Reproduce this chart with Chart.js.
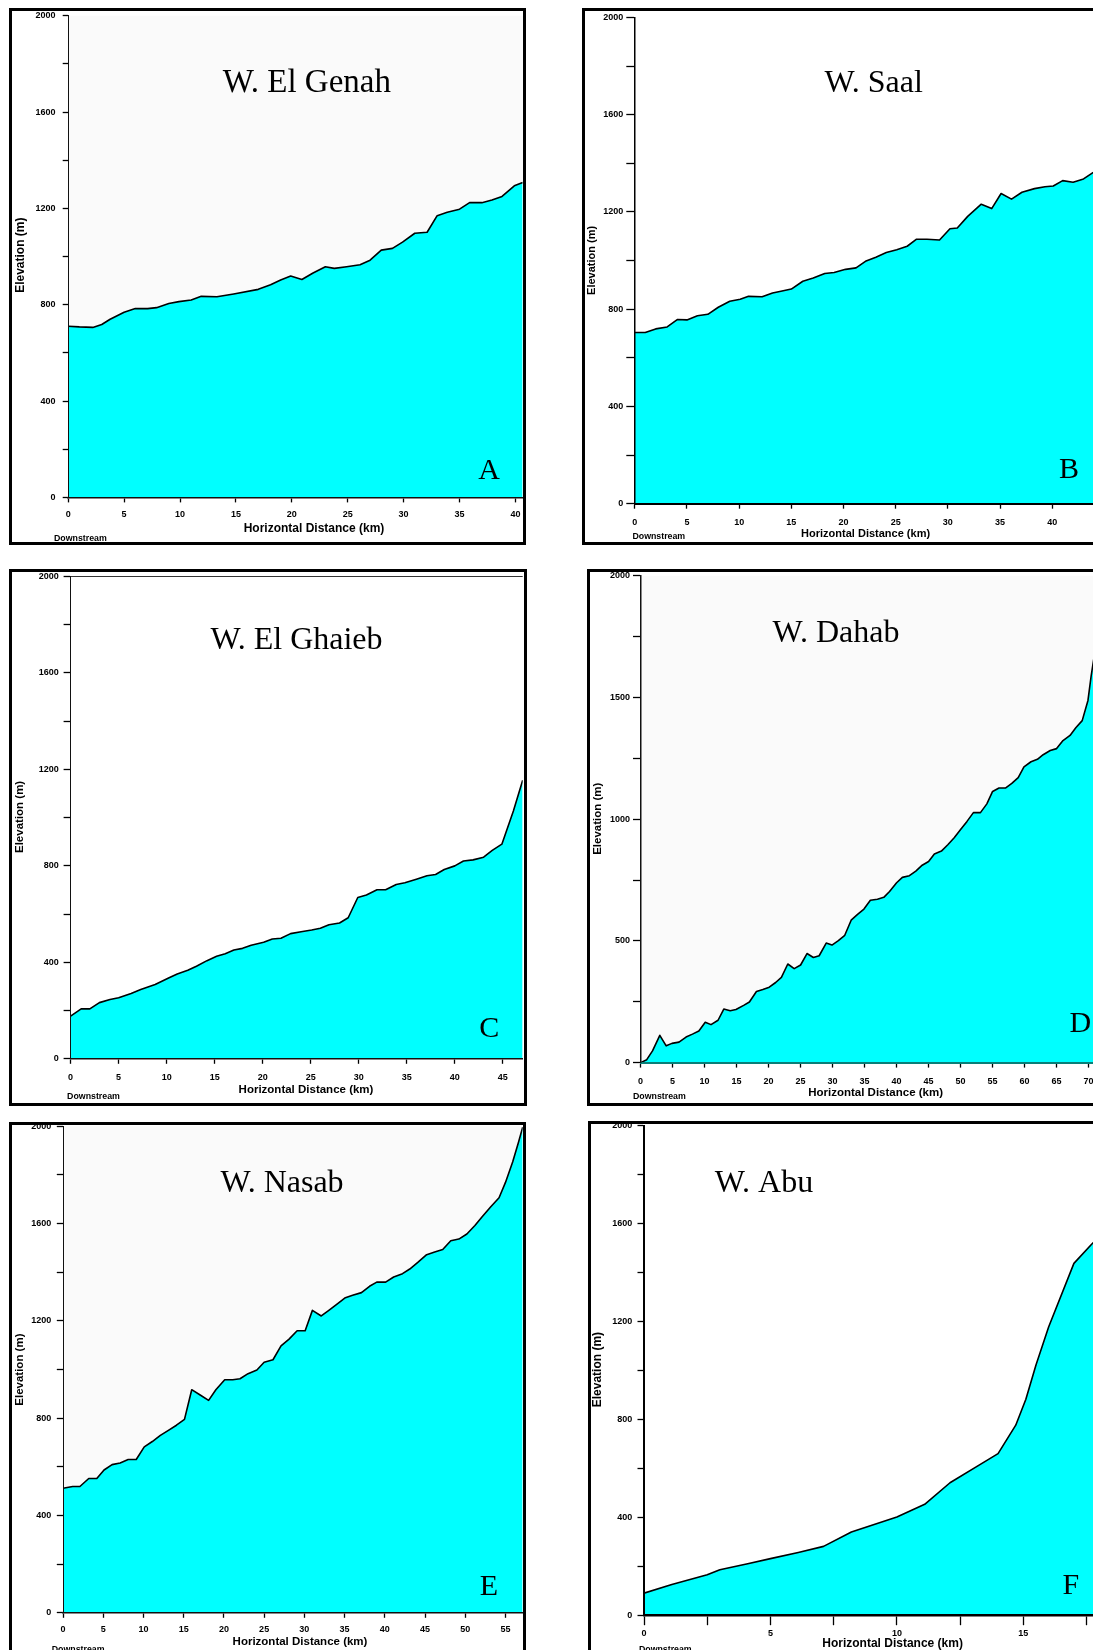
<!DOCTYPE html>
<html>
<head>
<meta charset="utf-8">
<script src="https://cdn.jsdelivr.net/npm/chart.js@4.4.1/dist/chart.umd.min.js"></script>
<style>
  html, body { margin: 0; padding: 0; background: #fff; }
  body { width: 1093px; height: 1650px; overflow: hidden; position: relative; }
  .frame { position: absolute; border: 3px solid #000; box-sizing: border-box; background: #fff; }
  .frame canvas { position: absolute; left: 0; top: 0; }
</style>
</head>
<body>
<script>
// Longitudinal profiles of six wadis: horizontal distance (km) vs elevation (m)
const panelNames = ['W. El Genah', 'W. Saal', 'W. El Ghaieb', 'W. Dahab', 'W. Nasab', 'W. Abu'];
const panelLetters = ['A', 'B', 'C', 'D', 'E', 'F'];
const xAxisTitle = 'Horizontal Distance (km)';
const yAxisTitle = 'Elevation (m)';
const downstreamNote = 'Downstream';

const genahKm   = [0, 1, 2.2, 3, 3.75, 5, 6, 7.1, 7.9, 9, 9.9, 11, 11.9, 13.3, 14.8, 17, 18.1, 19, 19.9, 20.9, 21.9, 23, 23.8, 24.9, 26.1, 27, 28, 29, 29.9, 31, 32.1, 33, 33.9, 35, 35.9, 37, 37.9, 38.8, 39.9, 40.65];
const genahElev = [711, 708, 706, 718, 740, 769, 784, 784, 788, 805, 813, 820, 835, 833, 845, 864, 883, 903, 919, 905, 932, 958, 951, 958, 966, 985, 1027, 1034, 1060, 1097, 1101, 1170, 1184, 1197, 1224, 1224, 1235, 1250, 1294, 1308];

const saalKm   = [0, 1, 2, 3.1, 4.1, 5, 6, 7, 8, 9.1, 10.1, 10.9, 12.2, 13.2, 14, 15, 16.1, 17.1, 18.2, 19.1, 20.2, 21.2, 22.1, 23.1, 24.1, 25.1, 26.1, 27, 28, 29.2, 30.2, 30.9, 31.9, 33.2, 34.2, 35.1, 36.1, 37.1, 38.3, 39.3, 40.1, 41, 42, 43, 43.9, 45];
const saalElev = [704, 704, 719, 727, 758, 756, 773, 779, 808, 833, 841, 853, 851, 867, 874, 883, 915, 928, 947, 951, 964, 970, 997, 1014, 1033, 1045, 1059, 1088, 1088, 1085, 1131, 1134, 1182, 1232, 1214, 1276, 1253, 1281, 1296, 1304, 1307, 1329, 1322, 1336, 1362, 1385];

const ghaiebKm   = [0, 1.1, 2, 3, 4.1, 5, 6.3, 7.3, 8.8, 10.2, 11.1, 12.2, 13.1, 14.2, 15.2, 16.1, 17, 17.9, 18.8, 20.1, 21, 21.9, 22.9, 24, 25.1, 26, 26.9, 28, 28.9, 29.9, 30.8, 31.9, 32.8, 33.9, 34.8, 36, 37.1, 38, 38.9, 40, 40.9, 41.9, 43, 43.9, 44.9, 46.1, 47.07];
const ghaiebElev = [177, 207, 207, 233, 246, 253, 271, 287, 308, 335, 352, 367, 384, 407, 425, 436, 451, 458, 471, 483, 497, 500, 519, 527, 534, 541, 556, 563, 585, 669, 679, 701, 701, 723, 730, 745, 759, 764, 785, 800, 820, 825, 836, 864, 890, 1028, 1155];

const dahabKm   = [0, 0.96, 1.86, 3, 4, 4.9, 6, 7.1, 8.1, 9.1, 10.1, 11, 12.1, 13, 14, 14.9, 16.1, 17, 18.1, 19.1, 20.1, 21.1, 22, 23, 24, 25, 26, 27, 27.9, 29, 29.9, 30.9, 31.9, 32.9, 33.9, 34.9, 35.9, 37, 38, 38.9, 40, 40.9, 42, 43, 44, 45, 45.9, 47, 48, 49, 50, 51, 52, 53.1, 54.1, 55, 56, 57, 58, 59, 59.9, 61, 62, 62.9, 64, 65, 66, 67.1, 68, 69, 69.9, 70.4, 70.7, 71];
const dahabElev = [0, 12, 48, 112, 69, 79, 84, 105, 117, 130, 166, 156, 174, 220, 213, 218, 235, 249, 292, 300, 310, 329, 350, 405, 386, 401, 448, 432, 439, 491, 483, 501, 523, 585, 609, 631, 667, 671, 679, 703, 739, 761, 768, 787, 811, 826, 857, 869, 895, 924, 958, 991, 1027, 1027, 1063, 1114, 1128, 1128, 1147, 1171, 1215, 1236, 1246, 1265, 1282, 1290, 1323, 1344, 1376, 1405, 1488, 1589, 1640, 1690];

const nasabKm   = [0, 1.2, 2.1, 3.2, 4.2, 5.1, 6.1, 7.1, 8.1, 9.1, 10.1, 11.1, 12.1, 13.1, 14.1, 15.1, 16, 17.1, 18.1, 19, 20.1, 21.1, 22, 23, 24.1, 25, 26.1, 27.1, 28.1, 29.1, 30.1, 31, 32.1, 33, 34.1, 35.1, 36, 37.1, 38.1, 39, 40.1, 41.1, 42.2, 43.1, 44.1, 45.2, 46.2, 47.2, 48.2, 49.2, 50.2, 51.2, 52.1, 53.2, 54.2, 55, 55.9, 56.6, 57.14];
const nasabElev = [512, 519, 519, 552, 552, 587, 609, 616, 630, 630, 682, 704, 729, 750, 771, 795, 917, 894, 873, 917, 958, 958, 962, 983, 998, 1030, 1040, 1097, 1125, 1159, 1159, 1243, 1220, 1242, 1270, 1295, 1305, 1316, 1342, 1359, 1359, 1380, 1394, 1413, 1440, 1472, 1483, 1493, 1529, 1536, 1557, 1592, 1628, 1670, 1706, 1769, 1854, 1932, 1996];

const abuKm   = [0, 1.1, 2.5, 3, 4.1, 5, 6.1, 7.1, 8.2, 10, 11.1, 12.1, 13.2, 14, 14.7, 15.1, 15.5, 16, 17, 17.7, 18];
const abuElev = [90, 125, 165, 186, 210, 231, 256, 281, 340, 401, 453, 541, 610, 660, 776, 882, 1022, 1177, 1437, 1515, 1545];

const SANS = '"Liberation Sans", Arial, sans-serif';
const SERIF = '"Liberation Serif", "Times New Roman", serif';
const BORDER = 3;

// Panel layout (page pixels): outer frame box and plot-area box for each chart
const panels = [
  { name: panelNames[0], letter: panelLetters[0], km: genahKm, elev: genahElev,
    frame: { x: 9, y: 8, w: 517, h: 537 }, plot: { l: 68.2, t: 15.8, r: 522.7, b: 497.4 },
    xMax: 40.65, xStep: 5, xLabelEvery: 5, yStep: 200, yLabelEvery: 400,
    yTick: { len: 5.5, pad: 7.2 }, xTick: { len: 5, pad: 7.2 },
    bg: '#fafafa', xAxisColor: '#111', yAxisColor: '#111', xBorderW: 1.5, yBorderW: 1, topLine: false,
    nameAt: [306.8, 91.9], nameSize: 33, letterAt: [489, 478.8],
    yTitleAt: [20.7, 255.2], xTitleAt: [314, 529], titleSize: 12, downAt: [54, 539] },
  { name: panelNames[1], letter: panelLetters[1], km: saalKm, elev: saalElev,
    frame: { x: 582, y: 8, w: 540, h: 537 }, plot: { l: 634.8, t: 17.5, r: 1104.4, b: 503.7 },
    xMax: 45, xStep: 5, xLabelEvery: 5, yStep: 200, yLabelEvery: 400,
    yTick: { len: 8.5, pad: 3 }, xTick: { len: 5, pad: 8.5 },
    bg: '#ffffff', xAxisColor: '#000', yAxisColor: '#000', xBorderW: 2, yBorderW: 1.5, topLine: false,
    nameAt: [873.7, 91.9], nameSize: 32, letterAt: [1069, 477.7],
    yTitleAt: [592.3, 260.4], xTitleAt: [865.6, 534], titleSize: 11, downAt: [632.4, 537] },
  { name: panelNames[2], letter: panelLetters[2], km: ghaiebKm, elev: ghaiebElev,
    frame: { x: 9, y: 569, w: 518, h: 537 }, plot: { l: 70.6, t: 576.5, r: 522.7, b: 1058.8 },
    xMax: 47.07, xStep: 5, xLabelEvery: 5, yStep: 200, yLabelEvery: 400,
    yTick: { len: 7, pad: 4.8 }, xTick: { len: 5, pad: 8.2 },
    bg: '#ffffff', xAxisColor: '#111', yAxisColor: '#111', xBorderW: 1.5, yBorderW: 1, topLine: true,
    nameAt: [296.5, 649.4], nameSize: 32, letterAt: [489.3, 1037],
    yTitleAt: [20.1, 816.9], xTitleAt: [306, 1089.6], titleSize: 11.5, downAt: [67.1, 1096.6] },
  { name: panelNames[3], letter: panelLetters[3], km: dahabKm, elev: dahabElev,
    frame: { x: 587, y: 569, w: 540, h: 537 }, plot: { l: 640.6, t: 575.8, r: 1095, b: 1062.6 },
    xMax: 71, xStep: 5, xLabelEvery: 5, yStep: 250, yLabelEvery: 500,
    yTick: { len: 7.6, pad: 3 }, xTick: { len: 5, pad: 8.6 },
    bg: '#fafafa', xAxisColor: '#0a7f78', yAxisColor: '#111', xBorderW: 2, yBorderW: 1.5, topLine: false,
    nameAt: [836, 642.4], nameSize: 32, letterAt: [1080.4, 1031.8],
    yTitleAt: [597.4, 818.7], xTitleAt: [875.6, 1093], titleSize: 11.5, downAt: [633, 1096.6] },
  { name: panelNames[4], letter: panelLetters[4], km: nasabKm, elev: nasabElev,
    frame: { x: 9, y: 1122, w: 517, h: 545 }, plot: { l: 63, t: 1126.2, r: 522.7, b: 1612.8 },
    xMax: 57.14, xStep: 5, xLabelEvery: 5, yStep: 200, yLabelEvery: 400,
    yTick: { len: 6.2, pad: 5.5 }, xTick: { len: 5, pad: 6.8 },
    bg: '#fafafa', xAxisColor: '#111', yAxisColor: '#111', xBorderW: 1.5, yBorderW: 1, topLine: false,
    nameAt: [282, 1192], nameSize: 32, letterAt: [488.8, 1594.5],
    yTitleAt: [19.6, 1369.6], xTitleAt: [300, 1642], titleSize: 11.5, downAt: [51.7, 1650] },
  { name: panelNames[5], letter: panelLetters[5], km: abuKm, elev: abuElev,
    frame: { x: 588, y: 1121, w: 540, h: 545 }, plot: { l: 644, t: 1125.5, r: 1099.2, b: 1615.2 },
    xMax: 18, xStep: 2.5, xLabelEvery: 5, yStep: 200, yLabelEvery: 400,
    yTick: { len: 6.5, pad: 5.2 }, xTick: { len: 10, pad: 2.8 },
    bg: '#ffffff', xAxisColor: '#000', yAxisColor: '#000', xBorderW: 2.5, yBorderW: 2, topLine: false,
    nameAt: [764, 1192], nameSize: 32, letterAt: [1070.9, 1593.8],
    yTitleAt: [597.4, 1369.6], xTitleAt: [892.6, 1644], titleSize: 12, downAt: [638.9, 1650] }
];

function isMultiple(v, step) {
  const r = Math.abs(v / step - Math.round(v / step));
  return r < 1e-6;
}

function makePanel(p) {
  const box = document.createElement('div');
  box.className = 'frame';
  box.style.left = p.frame.x + 'px';
  box.style.top = p.frame.y + 'px';
  box.style.width = p.frame.w + 'px';
  box.style.height = p.frame.h + 'px';
  document.body.appendChild(box);

  const ox = p.frame.x + BORDER, oy = p.frame.y + BORDER;
  const cw = p.frame.w - 2 * BORDER, ch = p.frame.h - 2 * BORDER;
  const cv = document.createElement('canvas');
  cv.width = cw; cv.height = ch;
  cv.style.width = cw + 'px'; cv.style.height = ch + 'px';
  box.appendChild(cv);

  const panelText = {
    id: 'panelText',
    beforeDraw(chart) {
      const { ctx, chartArea: a } = chart;
      ctx.save();
      ctx.fillStyle = p.bg;
      ctx.fillRect(a.left, a.top, a.right - a.left, a.bottom - a.top);
      ctx.restore();
    },
    afterDraw(chart) {
      const ctx = chart.ctx;
      ctx.save();
      ctx.fillStyle = '#000';
      ctx.textAlign = 'center';
      ctx.textBaseline = 'alphabetic';
      ctx.font = p.nameSize + 'px ' + SERIF;
      ctx.fillText(p.name, p.nameAt[0] - ox, p.nameAt[1] - oy);
      ctx.font = '30px ' + SERIF;
      ctx.fillText(p.letter, p.letterAt[0] - ox, p.letterAt[1] - oy);

      ctx.textBaseline = 'middle';
      ctx.font = 'bold ' + p.titleSize + 'px ' + SANS;
      ctx.fillText(xAxisTitle, p.xTitleAt[0] - ox, p.xTitleAt[1] - oy);
      ctx.save();
      ctx.translate(p.yTitleAt[0] - ox, p.yTitleAt[1] - oy);
      ctx.rotate(-Math.PI / 2);
      ctx.fillText(yAxisTitle, 0, 0);
      ctx.restore();

      ctx.textAlign = 'left';
      ctx.font = 'bold 8.8px ' + SANS;
      ctx.fillText(downstreamNote, p.downAt[0] - ox, p.downAt[1] - oy);
      ctx.restore();
    }
  };

  const tickFont = { family: SANS, size: 9, weight: 'bold' };

  new Chart(cv, {
    type: 'line',
    data: {
      datasets: [{
        data: p.km.map((x, i) => ({ x: x, y: p.elev[i] })),
        borderColor: '#000',
        borderWidth: 1.6,
        borderJoinStyle: 'round',
        backgroundColor: '#00ffff',
        fill: 'origin',
        pointRadius: 0,
        tension: 0
      }]
    },
    options: {
      responsive: false,
      animation: false,
      devicePixelRatio: 1,
      events: [],
      layout: { padding: { left: 0, bottom: 0, top: p.plot.t - oy, right: (ox + cw) - p.plot.r } },
      plugins: { legend: { display: false }, tooltip: { enabled: false }, title: { display: false } },
      scales: {
        x: {
          type: 'linear', position: 'bottom', min: 0, max: p.xMax,
          ticks: {
            stepSize: p.xStep, autoSkip: false, maxRotation: 0, minRotation: 0, includeBounds: false,
            padding: p.xTick.pad, color: '#000', font: tickFont,
            callback: v => (isMultiple(v, p.xLabelEvery) ? String(v) : '')
          },
          grid: { drawOnChartArea: false, drawTicks: true, tickLength: p.xTick.len, tickColor: '#000', tickWidth: 1.3 },
          border: { display: true, color: p.xAxisColor, width: p.xBorderW, z: 1 },
          afterFit(s) { s.height = (oy + ch) - p.plot.b; s.paddingLeft = 0; s.paddingRight = 0; }
        },
        y: {
          type: 'linear', position: 'left', min: 0, max: 2000,
          ticks: {
            stepSize: p.yStep, autoSkip: false, includeBounds: false,
            padding: p.yTick.pad, color: '#000', font: tickFont,
            callback: v => (isMultiple(v, p.yLabelEvery) ? String(v) : '')
          },
          grid: {
            drawOnChartArea: p.topLine, drawTicks: true, tickLength: p.yTick.len, tickColor: '#000', tickWidth: 1.3,
            color: ctx => (ctx.tick && ctx.tick.value === 2000 ? '#333' : 'rgba(0,0,0,0)'),
            lineWidth: 1
          },
          border: { display: true, color: p.yAxisColor, width: p.yBorderW, z: 1 },
          afterFit(s) { s.width = p.plot.l - ox; s.paddingTop = 0; s.paddingBottom = 0; }
        }
      }
    },
    plugins: [panelText]
  });
}

panels.forEach(makePanel);
</script>
</body>
</html>
